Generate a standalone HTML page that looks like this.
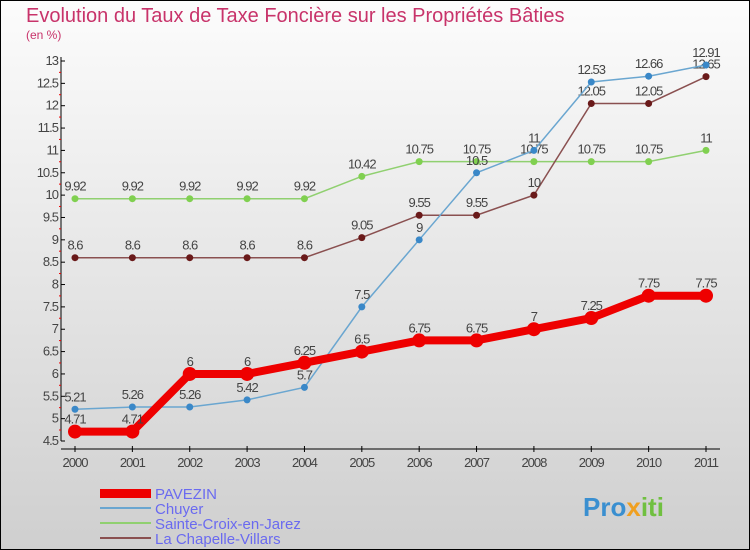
<!DOCTYPE html>
<html><head><meta charset="utf-8"><style>
body{margin:0}
svg{display:block}
text{font-family:"Liberation Sans",sans-serif}
</style></head><body>
<svg id="c" width="750" height="550" xmlns="http://www.w3.org/2000/svg">
<defs><linearGradient id="bg" x1="0" y1="0" x2="0" y2="1"><stop offset="0" stop-color="#fcfcfc"/><stop offset="1" stop-color="#cfcfcf"/></linearGradient></defs>
<rect x="0.5" y="0.5" width="749" height="549" fill="url(#bg)" stroke="#000"/>
<text x="26" y="22" font-size="20" fill="#c8336a">Evolution du Taux de Taxe Foncière sur les Propriétés Bâties</text>
<text x="26" y="39" font-size="12" fill="#c8336a">(en %)</text>
<g id="axes"></g><g id="series"></g>
<g>
<rect x="100" y="489" width="51" height="9" fill="#e00"/>
<line x1="100" y1="508" x2="151" y2="508" stroke="#6aa6d0" stroke-width="2"/>
<line x1="100" y1="523" x2="151" y2="523" stroke="#90d070" stroke-width="2"/>
<line x1="100" y1="538" x2="151" y2="538" stroke="#8a5050" stroke-width="2"/>
<text x="155" y="499" font-size="15" fill="#6a6af0">PAVEZIN</text>
<text x="155" y="514" font-size="15" fill="#6a6af0">Chuyer</text>
<text x="155" y="529" font-size="15" fill="#6a6af0">Sainte-Croix-en-Jarez</text>
<text x="155" y="544" font-size="15" fill="#6a6af0">La Chapelle-Villars</text>
</g>
<g><text x="583" y="516" font-size="26" font-weight="bold" fill="#3a8fd0">Pro<tspan fill="#f0a020">x</tspan><tspan fill="#70c040">iti</tspan></text></g>
</svg>
<script>
const years=[2000,2001,2002,2003,2004,2005,2006,2007,2008,2009,2010,2011];
const pavezin=[4.71,4.71,6,6,6.25,6.5,6.75,6.75,7,7.25,7.75,7.75];
const chuyer=[5.21,5.26,5.26,5.42,5.7,7.5,9,10.5,11,12.53,12.66,12.91];
const sainteCroix=[9.92,9.92,9.92,9.92,9.92,10.42,10.75,10.75,10.75,10.75,10.75,11];
const chapelle=[8.6,8.6,8.6,8.6,8.6,9.05,9.55,9.55,10,12.05,12.05,12.65];
const yTicks=[4.5,5,5.5,6,6.5,7,7.5,8,8.5,9,9.5,10,10.5,11,11.5,12,12.5,13];
const NS="http://www.w3.org/2000/svg";
const X=i=>75+i*(706-75)/(years.length-1);
const Y=v=>441-(v-4.5)*(441-61)/(13-4.5);
function el(t,a,p){const e=document.createElementNS(NS,t);for(const k in a)e.setAttribute(k,a[k]);p.appendChild(e);return e;}
const ax=document.getElementById('axes');
let l=el('line',{x1:61,y1:57,x2:61,y2:441,stroke:'#000'},ax);


l=el('line',{x1:61,y1:449,x2:720,y2:449,stroke:'#000'},ax);


yTicks.forEach((v,i)=>{
 const y=Y(v);
 el('line',{x1:61,y1:y,x2:65,y2:y,stroke:'#000'},ax);
 if(i<yTicks.length-1)el('line',{x1:59,y1:y-11,x2:61,y2:y-11,stroke:'#e00'},ax);
 const t=el('text',{x:58,y:y+4,'font-size':13,'text-anchor':'end',fill:'#444','letter-spacing':'-1'},ax);
 t.textContent=String(v);
 
 
});
years.forEach((yr,i)=>{
 el('line',{x1:X(i),y1:446,x2:X(i),y2:452,stroke:'#000'},ax);
 const t=el('text',{x:X(i),y:467,'font-size':13,'text-anchor':'middle',fill:'#444','letter-spacing':'-1'},ax);
 t.textContent=String(yr);
 
 
});
const sg=document.getElementById('series');
function draw(data,color,dot,w,r,name){
 const g=el('g',{},sg);
 
 
 const p=el('polyline',{points:data.map((v,i)=>X(i)+','+Y(v)).join(' '),fill:'none',stroke:color,'stroke-width':w},g);
 
 
 data.forEach((v,i)=>{
  const c=el('circle',{cx:X(i),cy:Y(v),r:r,fill:dot},g);
  
  
  const t=el('text',{x:X(i),y:Y(v)-8,'font-size':13,'text-anchor':'middle',fill:'#444','letter-spacing':'-1'},g);
  t.textContent=String(v);
  
  
 });
}
draw(sainteCroix,'#90d070','#80d050',1.5,3.5,'sainte-croix');
draw(chapelle,'#8a5050','#6a1a1a',1.5,3.5,'la-chapelle');
draw(chuyer,'#6aa6d0','#3a88c8',1.5,3.5,'chuyer');
draw(pavezin,'#ee0000','#ee0000',8,7,'pavezin');
</script>
</body></html>
